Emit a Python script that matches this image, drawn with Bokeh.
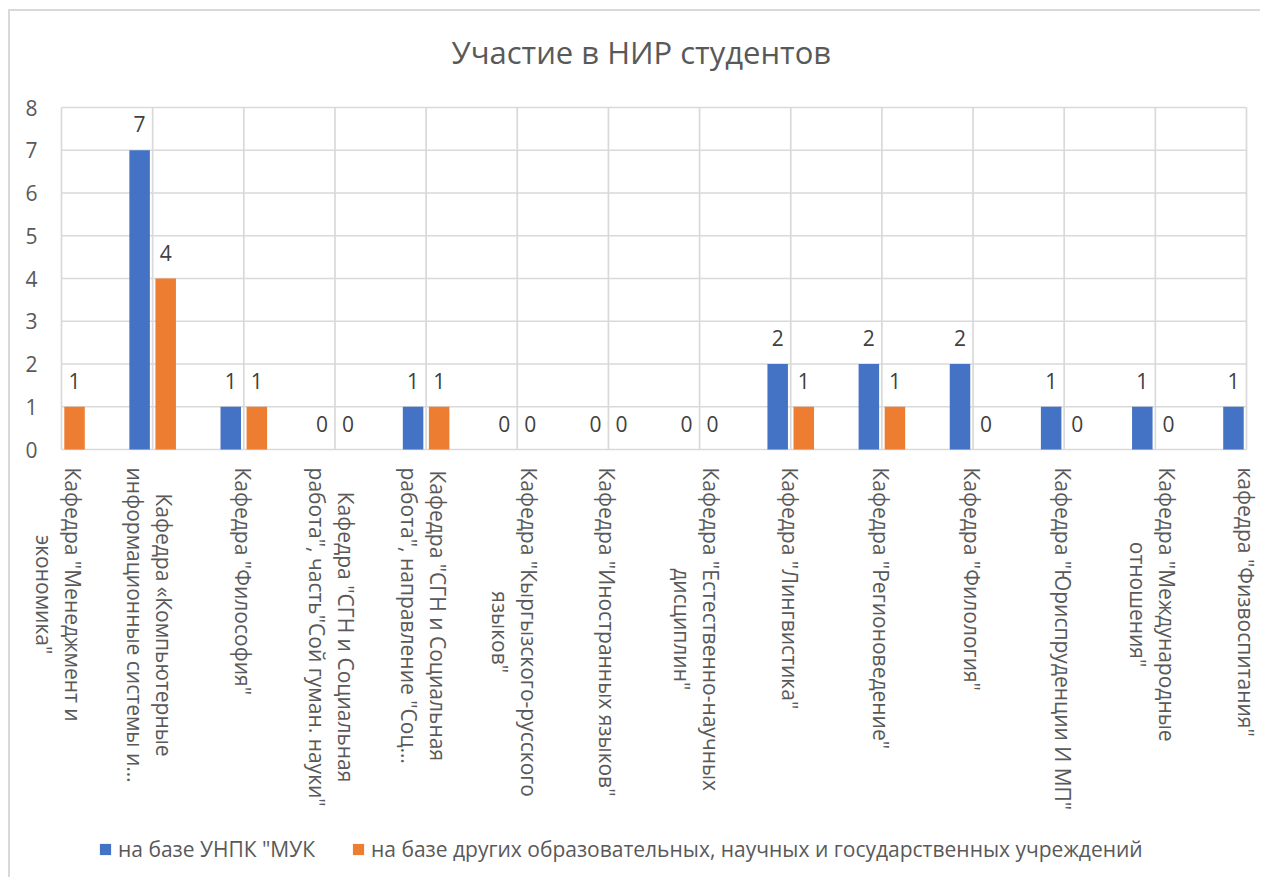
import math
import glob
import subprocess
import numpy as np
from bokeh.plotting import figure
from bokeh.models import Range1d, Label, Legend, LegendItem, ColumnDataSource
from bokeh.transform import dodge
from bokeh.layouts import column
from bokeh.core.properties import value
from bokeh.embed import file_html
from bokeh.resources import INLINE

# ---------------- data ----------------
title_text = "Участие в НИР студентов"
categories = [
    'Кафедра "Менеджмент и\nэкономика"',
    'Кафедра «Компьютерные\nинформационные системы и…',
    'Кафедра "Философия"',
    'Кафедра "СГН и Социальная\nработа", часть"Сой гуман. науки"',
    'Кафедра "СГН и Социальная\nработа", направление "Соц…',
    'Кафедра "Кыргызского-русского\nязыков"',
    'Кафедра "Иностранных языков"',
    'Кафедра "Естественно-научных\nдисциплин"',
    'Кафедра "Лингвистика"',
    'Кафедра "Регионоведение"',
    'Кафедра "Филология"',
    'Кафедра "Юриспруденции И МП"',
    'Кафедра "Международные\nотношения"',
    'кафедра "Физвоспитания"',
]
series_names = [
    'на базе УНПК "МУК',
    'на базе других образовательных, научных и государственных учреждений',
]
unpk = [np.nan, 7, 1, 0, 1, 0, 0, 0, 2, 2, 2, 1, 1, 1]
other = [1, 4, 1, 0, 1, 0, 0, 0, 1, 1, 0, 0, 0, np.nan]
y_ticks = [0, 1, 2, 3, 4, 5, 6, 7, 8]

# ---------------- style / layout ----------------
FONT = "Open Sans"
LABEL_PX = 21
BLUE = "#4472C4"
ORANGE = "#ED7D31"
GRID = "#D9D9D9"
TXT = "#595959"
LBL = "#404040"

FIG_W, FIG_H = 1250, 866
PLOT_L, PLOT_W = 51, 1185        # plot area (left edge, width) inside the canvas, px
PLOT_B, PLOT_H = 438, 342        # plot area (bottom edge from canvas top, height), px
BAR_W = 0.225
OFFS = 0.143
LINE_SP = 29                      # px between wrapped label lines


# ---- text measuring (to centre the wrapped, rotated category labels) ----
def _font_file():
    try:
        out = subprocess.run(["fc-match", "-f", "%{file}", FONT], capture_output=True,
                             text=True, timeout=5).stdout.strip()
        if out and "opensans" in out.lower().replace(" ", "").replace("-", ""):
            return out
    except Exception:
        pass
    for pat in ("/usr/share/fonts/**/OpenSans-Regular.ttf", "/usr/share/fonts/**/OpenSans*.ttf",
                "/usr/local/share/fonts/**/OpenSans*.ttf", "/usr/share/fonts/**/*pen*ans*.ttf"):
        g = sorted(glob.glob(pat, recursive=True))
        if g:
            return g[0]
    return None


_measure = None
try:
    from PIL import ImageFont
    _ff = _font_file()
    if _ff:
        _pil_font = ImageFont.truetype(_ff, LABEL_PX)
        _measure = lambda s: _pil_font.getlength(s)
except Exception:
    _measure = None
if _measure is None:
    _measure = lambda s: 0.57 * LABEL_PX * len(s)


n = len(categories)
xs = list(range(n))
ppu_x = PLOT_W / (n - 1)
ppu_y = PLOT_H / (y_ticks[-1] - y_ticks[0])
x0 = -PLOT_L / ppu_x
y1 = y_ticks[0] + PLOT_B / ppu_y
y0 = y1 - FIG_H / ppu_y

src = ColumnDataSource(dict(
    x=xs,
    unpk=unpk,
    other=other,
    unpk_txt=["" if np.isnan(v) else str(int(v)) for v in unpk],
    other_txt=["" if np.isnan(v) else str(int(v)) for v in other],
))

p = figure(width=FIG_W, height=FIG_H, output_backend="svg", toolbar_location=None,
           x_range=Range1d(x0, x0 + FIG_W / ppu_x), y_range=Range1d(y0, y1),
           x_axis_location=None, y_axis_location=None,
           min_border_left=0, min_border_right=0, min_border_top=0, min_border_bottom=0)
p.outline_line_color = None
p.background_fill_color = "white"
p.border_fill_color = "white"
p.grid.visible = False

# title
p.add_layout(Label(x=390 / ppu_x, y=y_ticks[0] + 398 / ppu_y, text=title_text,
                   text_font=FONT, text_font_size="31px", text_color=TXT,
                   text_align="left", text_baseline="alphabetic"))

# grid lines of the plot area
p.segment(x0=[xs[0]] * len(y_ticks), y0=y_ticks, x1=[xs[-1]] * len(y_ticks), y1=y_ticks,
          line_color=GRID, line_width=1.7)
p.segment(x0=xs, y0=[y_ticks[0]] * n, x1=xs, y1=[y_ticks[-1]] * n,
          line_color=GRID, line_width=1.7)

# value axis labels
p.text(x=[xs[0]] * len(y_ticks), y=y_ticks, text=[str(t) for t in y_ticks],
       x_offset=-24, text_align="right", text_baseline="middle",
       text_font=value(FONT), text_font_size="21px", text_color=TXT)

# bars
r1 = p.vbar(x=dodge("x", -OFFS), top="unpk", bottom=0, width=BAR_W, source=src,
            fill_color=BLUE, line_color=None)
r2 = p.vbar(x=dodge("x", OFFS), top="other", bottom=0, width=BAR_W, source=src,
            fill_color=ORANGE, line_color=None)

# data labels
for col, off in (("unpk", -OFFS), ("other", OFFS)):
    p.text(x=dodge("x", off), y=col, text=col + "_txt", source=src,
           text_align="center", text_baseline="alphabetic", y_offset=-26,
           text_font=value(FONT), text_font_size="21px", text_color=LBL)

# category labels: rotated, each line centred on the block, block starts 18px below the axis
y_lab_top = y_ticks[0] - 18 / ppu_y
for i, cat in enumerate(categories):
    lines = cat.split("\n")
    k = len(lines)
    longest = max(_measure(line) for line in lines)
    yc = y_lab_top - (longest / 2) / ppu_y
    for j, line in enumerate(lines):
        shift = ((k - 1) / 2 - j) * LINE_SP - 1 - (2 if k > 1 else 0)
        p.add_layout(Label(x=i, y=yc, text=line, angle=-math.pi / 2, x_offset=shift,
                           text_align="center", text_baseline="middle",
                           text_font=FONT, text_font_size=f"{LABEL_PX}px",
                           text_color=TXT))

# legend
legend = Legend(items=[LegendItem(label=series_names[0], renderers=[r1]),
                       LegendItem(label=series_names[1], renderers=[r2])],
                orientation="horizontal", location=(88, 14),
                glyph_width=14, glyph_height=14, label_standoff=6, spacing=36,
                padding=0, margin=0, border_line_color=None,
                background_fill_alpha=0,
                label_text_font=FONT, label_text_font_size="21px",
                label_text_color=TXT, label_height=14)
p.add_layout(legend, "center")

root = column(p, margin=(9, 0, 0, 8),
              styles={"border-left": "2px solid #D9D9D9", "border-top": "2px solid #D9D9D9"})

open("out.html", "w").write(file_html(root, INLINE))
